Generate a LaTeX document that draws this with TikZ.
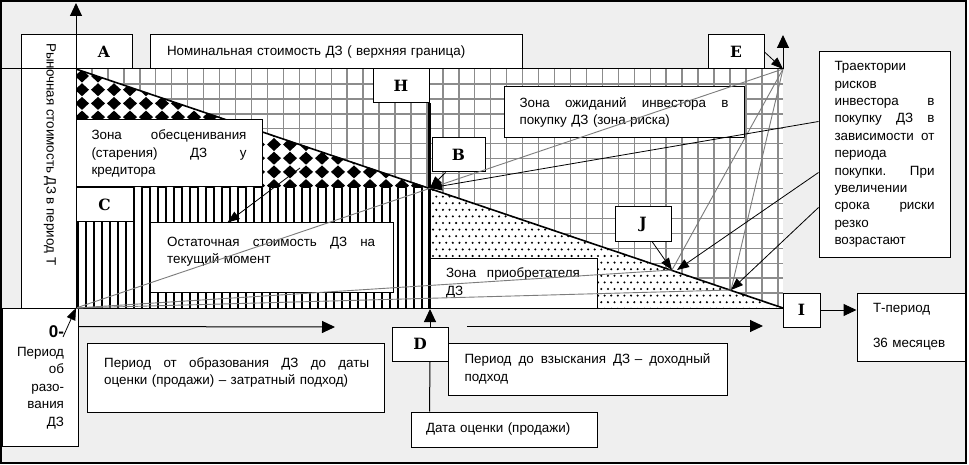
\documentclass[tikz,border=0pt]{standalone}
\usepackage{fontspec}
\setmainfont{Liberation Sans}
\newfontfamily\letterfont{DejaVu Serif}
\usepackage{tikz}
\usetikzlibrary{arrows.meta,positioning,calc}
\definecolor{bggray}{HTML}{EFEFEF}
\definecolor{gridgray}{HTML}{8C8C8C}
\definecolor{trajgray}{HTML}{7C7C7C}
\tikzset{
  box/.style={draw=black,fill=white,line width=1pt,inner sep=0pt},
  letterbox/.style={box,minimum width=56pt,minimum height=34pt,
                    font=\letterfont\bfseries\fontsize{15.5pt}{15.5pt}\selectfont},
  txt/.style={font=\fontsize{13.4pt}{17.4pt}\selectfont,align=left,inner sep=0pt},
  gridline/.style={gridgray,line width=1.4pt},
  arrowbig/.style={-{Triangle[length=13pt,width=12pt]},line width=1pt},
  arrowmid/.style={-{Triangle[length=12pt,width=9pt]},line width=0.8pt},
  traj/.style={trajgray,line width=0.9pt},
}
\begin{document}
\begin{tikzpicture}[x=1pt,y=-1pt]
  \useasboundingbox(0,0)rectangle(969,465);
  \draw[fill=bggray,line width=1.5pt](1,1)rectangle(966,463);
  % Chart corners
  \coordinate(topL)at(76,69);
  \coordinate(O)at(76,308);
  \coordinate(apex)at(783,69);
  \coordinate(ptI)at(783,308);
  \coordinate(ptB)at(430,188);
  \coordinate(pJa)at(672,270);
  \coordinate(pJb)at(731,290);
  % Grid
  \fill[white](topL)rectangle(ptI);
  \foreach \k in {1,...,44}{
    \draw[gridline]({76+15.95*\k},69)--({76+15.95*\k},308);}
  \foreach \k in {1,...,15}{
    \draw[gridline](76,{69+14.94*\k})--(783,{69+14.94*\k});}
  % Diamonds
  \begin{scope}
    \clip(topL)--(ptB)--(76,188)--cycle;
    \fill[white](topL)--(ptB)--(76,188)--cycle;
    \foreach \i in {0,...,22}{
      \foreach \j in {0,...,8}{
        \fill({75+16*\i},{76+13.7*\j})--++(7,-6.5)--++(7,6.5)--++(-7,6.5)--cycle;}}
  \end{scope}
  % Stripes
  \begin{scope}
    \clip(76,188)rectangle(430,308);
    \fill[white](76,188)rectangle(430,308);
    \foreach \i in {0,...,44}{
      \draw[line width=2.3pt]({78+8*\i},188)--({78+8*\i},308);}
  \end{scope}
  % Dots
  \begin{scope}
    \clip(ptB)--(ptI)--(430,308)--cycle;
    \fill[white](ptB)--(ptI)--(430,308)--cycle;
    \foreach \j in {0,...,18}{
      \foreach \i in {0,...,54}{
        \fill({433+6.6*\i+3.3*mod(\j,2)},{190+6.6*\j})circle(1.15);}}
  \end{scope}
  \draw[line width=1.6pt](topL)--(ptI);
  % Boxes
  \node[box,minimum width=55pt,minimum height=273pt](mvBox)at(48.5,171.5){};
  \node[txt,rotate=-90,anchor=west](mvText)at(50,43){Рыночная стоимость ДЗ в период Т};
  \node[letterbox](boxA)at(104,52){A};
  \node[box,txt,text width=338pt,minimum width=372pt,minimum height=34pt](nominal)
    at(336,52){Номинальная стоимость ДЗ ( верхняя граница)};
  \node[letterbox](boxE)at(736,52){E};
  \node[letterbox](boxH)at(401,86){H};
  \node[box,txt,text width=209pt,minimum width=240pt,minimum height=51pt](expect)
    at(624,112.5){Зона\hfill ожиданий\hfill инвестора\hfill в\\покупку ДЗ (зона риска)};
  \node[letterbox,minimum width=53pt](boxB)at(458.5,155){B};
  \node[box,txt,text width=155pt,minimum width=186pt,minimum height=67pt](loss)
    at(169,153.5){Зона\hfill обесценивания\\(старения)\hfill ДЗ\hfill у\\кредитора};
  \node[letterbox,minimum width=57pt](boxC)at(104.5,205){C};
  \node[box,minimum width=243pt,minimum height=69pt](rest)at(271.5,257.5){};
  \node[txt,text width=208pt,anchor=north west](restText)at(167,237)
    {Остаточная\hfill стоимость\hfill ДЗ\hfill на\\текущий момент};
  \node[box,txt,text width=134pt,minimum width=168pt,minimum height=50pt](buyer)
    at(513,283){Зона\hfill приобретателя\\ДЗ};
  \node[letterbox](boxJ)at(643,224){J};
  \node[box,txt,text width=100pt,minimum width=131pt,minimum height=205pt](traj)
    at(884.5,154.5){Траектории\\рисков\\инвестора\hfill в\\покупку\hfill ДЗ\hfill в\\
    зависимости\hfill от\\периода\\покупки.\hfill При\\увеличении\\срока\hfill риски\\
    резко\\возрастают};
  \node[letterbox,minimum width=37pt](boxI)at(801.5,310){I};
  \node[box,txt,text width=76pt,minimum width=108pt,minimum height=68pt](tper)
    at(911,327){Т-период\\[17.6pt]36 месяцев};
  \node[box,txt,align=right,text width=48pt,minimum width=76pt,minimum height=138pt](zero)
    at(40,377){{\fontsize{17pt}{17pt}\selectfont\bfseries 0-}\\[2pt]Период\\об\\разо-\\вания\\ДЗ};
  \node[box,minimum width=297pt,minimum height=69pt](periodCost)at(235.5,377.5){};
  \node[txt,text width=265pt,anchor=north west](periodCostText)at(104,357)
    {Период\hfill от\hfill образования\hfill ДЗ\hfill до\hfill даты\\оценки (продажи) – затратный подход)};
  \node[box,txt,text width=246pt,minimum width=279pt,minimum height=52pt](periodInc)
    at(587.5,369){Период\hfill до\hfill взыскания\hfill ДЗ –\hfill доходный\\подход};
  \node[letterbox](boxD)at(420,344){D};
  \node[box,txt,text width=156pt,minimum width=186pt,minimum height=35pt](data)
    at(504,429.5){Дата оценки (продажи)};
  % Borders and date line
  \draw[line width=2.6pt](boxH.south east)--(boxH.south east|-O);
  \draw[line width=1pt](0,69)--(apex);
  \draw[line width=1pt](0,308)--(ptI);
  % Trajectories
  \draw[traj](O)--(apex);
  \draw[traj](O)--(pJa);
  \draw[traj](O)--(pJb);
  \draw[traj](apex)--(pJa);
  \draw[traj](apex)--(pJb);
  % Axes
  \coordinate(yTop)at(76,3);
  \coordinate(aTop)at(783,35);
  \coordinate(x1End)at(335,327);
  \coordinate(x2Start)at(467,326);
  \coordinate(x2End)at(763,326);
  \coordinate(dTip)at(430,309);
  \coordinate(zeroTip)at(63,337);
  \coordinate(dm)at(300,168);
  \draw[arrowbig](O)--(yTop);
  \draw[arrowbig](apex)--(aTop);
  \draw[arrowbig]($(zero.north east)+(0,19)$)--(x1End);
  \draw[arrowbig](x2Start)--(x2End);
  \draw[arrowbig]($(boxD.north)+(10,0)$)--(dTip);
  \draw[line width=1pt]($(boxD.south)+(10,0)$)--($(data.north west)+(19,0)$);
  \draw[arrowbig](boxI.east)--(boxI.east-|tper.west);
  % Pointers
  \draw[arrowmid](boxE.east)--(apex);
  \draw[arrowmid]([xshift=14pt]boxB.south west)--(ptB);
  \draw[arrowmid](dm)--([xshift=78pt]rest.north west);
  \draw[arrowmid](zeroTip)--(O);
  \draw[arrowmid]([xshift=9pt]boxJ.south)--(pJa);
  \draw[arrowmid]($(traj.north west)+(0,70)$)--(ptB);
  \draw[arrowmid]($(traj.north west)+(0,121)$)--([xshift=5pt]pJa);
  \draw[arrowmid]($(traj.north west)+(0,156)$)--(pJb);
\end{tikzpicture}
\end{document}
